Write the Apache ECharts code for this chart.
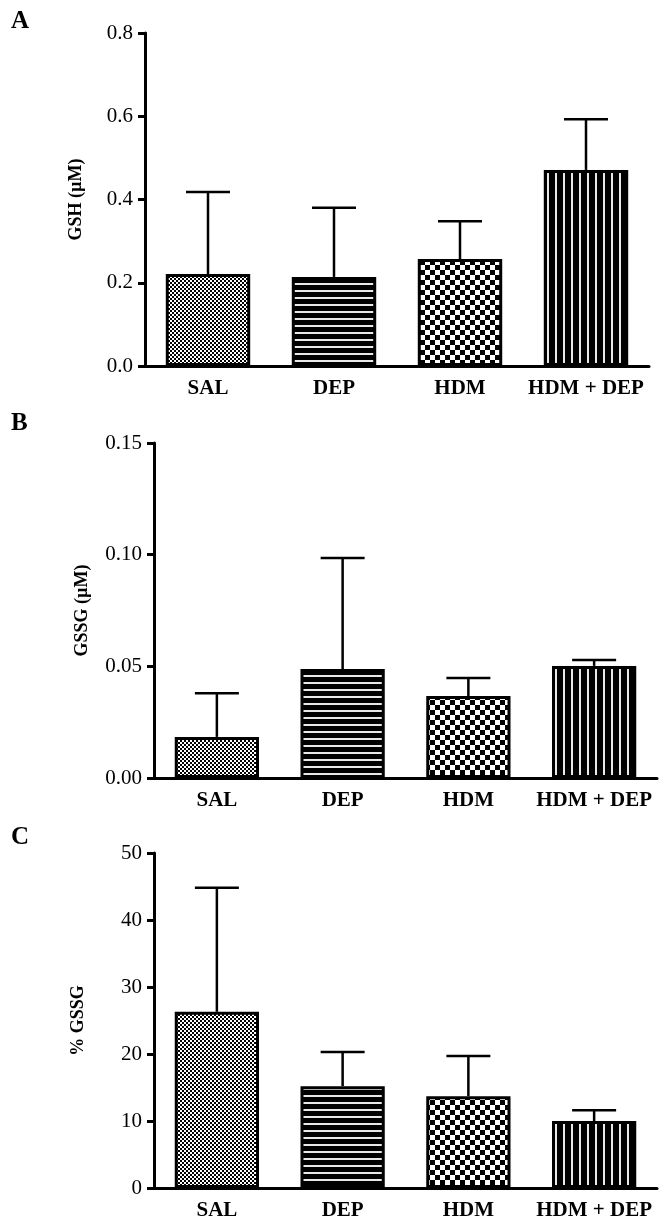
<!DOCTYPE html>
<html><head><meta charset="utf-8">
<script src="https://cdn.jsdelivr.net/npm/echarts@6/dist/echarts.min.js"></script>
<style>html,body{margin:0;padding:0;background:#fff}#c{width:664px;height:1226px}</style>
</head><body><div id="c"></div>
<script>
// ---- data ----
const categories = ['SAL', 'DEP', 'HDM', 'HDM + DEP'];
const gshMean = [0.221, 0.214, 0.257, 0.471];
const gshErr  = [0.197, 0.166, 0.091, 0.122];
const gssgMean = [0.0184, 0.0488, 0.0367, 0.0502];
const gssgErr  = [0.0196, 0.0497, 0.0081, 0.0026];
const pctMean = [26.3, 15.2, 13.7, 10.0];
const pctErr  = [18.5, 5.1, 6.0, 1.6];
const panelLetters = ['A', 'B', 'C'];
const axisNames = ['GSH (\u00b5M)', 'GSSG (\u00b5M)', '% GSSG'];
const yMax = [0.8, 0.15, 50];
const yStep = [0.2, 0.05, 10];
const yDecimals = [1, 2, 0];

// ---- patterns ----
function pattern(kind) {
  const c = document.createElement('canvas');
  const g = c.getContext('2d');
  if (kind === 'fine') {
    c.width = 4; c.height = 4;
    g.fillStyle = '#fff'; g.fillRect(0, 0, 4, 4);
    g.fillStyle = '#000'; g.fillRect(0, 0, 2, 2); g.fillRect(2, 2, 2, 2);
  } else if (kind === 'hlines') {
    c.width = 8; c.height = 7;
    g.fillStyle = '#000'; g.fillRect(0, 0, 8, 7);
    g.fillStyle = '#e8e8e8'; g.fillRect(0, 3, 8, 2);
  } else if (kind === 'checker') {
    c.width = 10; c.height = 10;
    g.fillStyle = '#fff'; g.fillRect(0, 0, 10, 10);
    g.fillStyle = '#000'; g.fillRect(0, 0, 5, 5); g.fillRect(5, 5, 5, 5);
  } else {
    c.width = 8; c.height = 8;
    g.fillStyle = '#000'; g.fillRect(0, 0, 8, 8);
    g.fillStyle = '#e8e8e8'; g.fillRect(3, 0, 2, 8);
  }
  return { image: c, repeat: 'repeat' };
}
const fills = [pattern('fine'), pattern('hlines'), pattern('checker'), pattern('vlines')];

const FONT = "'Liberation Serif', 'Times New Roman', serif";
const grids = [
  { left: 145, right: 15, top: 33, bottom: 860 },
  { left: 154, right: 7, top: 443, bottom: 448 },
  { left: 154, right: 7, top: 853, bottom: 38 }
];
const nameGaps = [60, 63, 67];
const letterTops = [4, 406, 820];
const means = [gshMean, gssgMean, pctMean];
const errs = [gshErr, gssgErr, pctErr];

const xAxis = [], yAxis = [], series = [], title = [];
for (let k = 0; k < 3; k++) {
  const dec = yDecimals[k];
  xAxis.push({
    type: 'category', gridIndex: k, data: categories,
    axisLine: { lineStyle: { color: '#000', width: 3 } },
    axisTick: { alignWithLabel: true, length: 7, lineStyle: { color: '#000', width: 3 } },
    axisLabel: { interval: 0, hideOverlap: false, color: '#000', fontFamily: FONT, fontWeight: 'bold', fontSize: 21, margin: 12 }
  });
  yAxis.push({
    type: 'value', gridIndex: k, min: 0, max: yMax[k], interval: yStep[k],
    name: axisNames[k], nameLocation: 'middle', nameGap: nameGaps[k],
    nameTextStyle: { color: '#000', fontFamily: FONT, fontWeight: 'bold', fontSize: 18 },
    splitLine: { show: false },
    axisLine: { show: true, lineStyle: { color: '#000', width: 3 } },
    axisTick: { show: true, length: 7, lineStyle: { color: '#000', width: 3 } },
    axisLabel: { color: '#000', fontFamily: FONT, fontSize: 21, margin: 12,
      formatter: v => Number(v).toFixed(dec) }
  });
  series.push({
    type: 'bar', xAxisIndex: k, yAxisIndex: k, barWidth: '67%',
    data: means[k].map((v, i) => ({ value: v, itemStyle: { color: fills[i], borderColor: '#000', borderWidth: 3 } })),
    silent: true, z: 2
  });
  series.push({
    type: 'custom', xAxisIndex: k, yAxisIndex: k, z: 3, silent: true,
    encode: { x: 0, y: 1 },
    data: means[k].map((v, i) => [i, v, v + errs[k][i]]),
    renderItem: (params, api) => {
      const p0 = api.coord([api.value(0), api.value(1)]);
      const p1 = api.coord([api.value(0), api.value(2)]);
      const half = 22;
      return { type: 'group', children: [
        { type: 'line', shape: { x1: p0[0], y1: p0[1], x2: p1[0], y2: p1[1] }, style: { stroke: '#000', lineWidth: 2.5 } },
        { type: 'line', shape: { x1: p1[0] - half, y1: p1[1], x2: p1[0] + half, y2: p1[1] }, style: { stroke: '#000', lineWidth: 2.5 } }
      ] };
    }
  });
  title.push({ text: panelLetters[k], left: 6, top: letterTops[k],
    textStyle: { color: '#000', fontFamily: FONT, fontWeight: 'bold', fontSize: 25 } });
}

const chart = echarts.init(document.getElementById('c'), null, { renderer: 'canvas' });
chart.setOption({
  backgroundColor: '#fff', animation: false,
  title, grid: grids, xAxis, yAxis, series
});
</script></body></html>
